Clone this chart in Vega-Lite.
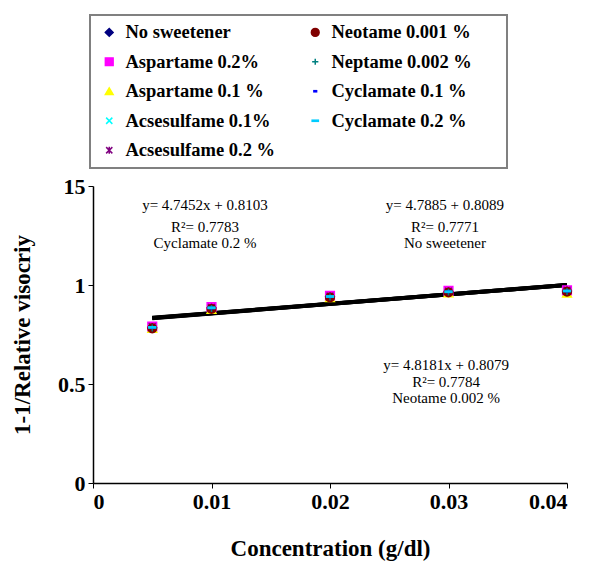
{
  "$schema": "https://vega.github.io/schema/vega-lite/v6.json",
  "width": 474,
  "height": 297,
  "autosize": "none",
  "padding": {"left": 93, "top": 186, "right": 27, "bottom": 79},
  "background": "white",
  "datasets": {
    "points": [
      {"series": "No sweetener", "x": 0.005, "y": 0.786}, {"series": "No sweetener", "x": 0.01, "y": 0.885}, {"series": "No sweetener", "x": 0.02, "y": 0.942}, {"series": "No sweetener", "x": 0.03, "y": 0.967}, {"series": "No sweetener", "x": 0.04, "y": 0.970},
      {"series": "Aspartame 0.2%", "x": 0.005, "y": 0.790}, {"series": "Aspartame 0.2%", "x": 0.01, "y": 0.888}, {"series": "Aspartame 0.2%", "x": 0.02, "y": 0.945}, {"series": "Aspartame 0.2%", "x": 0.03, "y": 0.970}, {"series": "Aspartame 0.2%", "x": 0.04, "y": 0.973},
      {"series": "Aspartame 0.1 %", "x": 0.005, "y": 0.780}, {"series": "Aspartame 0.1 %", "x": 0.01, "y": 0.876}, {"series": "Aspartame 0.1 %", "x": 0.02, "y": 0.935}, {"series": "Aspartame 0.1 %", "x": 0.03, "y": 0.960}, {"series": "Aspartame 0.1 %", "x": 0.04, "y": 0.958},
      {"series": "Acsesulfame 0.1%", "x": 0.005, "y": 0.784}, {"series": "Acsesulfame 0.1%", "x": 0.01, "y": 0.883}, {"series": "Acsesulfame 0.1%", "x": 0.02, "y": 0.940}, {"series": "Acsesulfame 0.1%", "x": 0.03, "y": 0.965}, {"series": "Acsesulfame 0.1%", "x": 0.04, "y": 0.968},
      {"series": "Acsesulfame 0.2 %", "x": 0.005, "y": 0.789}, {"series": "Acsesulfame 0.2 %", "x": 0.01, "y": 0.887}, {"series": "Acsesulfame 0.2 %", "x": 0.02, "y": 0.944}, {"series": "Acsesulfame 0.2 %", "x": 0.03, "y": 0.969}, {"series": "Acsesulfame 0.2 %", "x": 0.04, "y": 0.974},
      {"series": "Neotame 0.001 %", "x": 0.005, "y": 0.781}, {"series": "Neotame 0.001 %", "x": 0.01, "y": 0.879}, {"series": "Neotame 0.001 %", "x": 0.02, "y": 0.937}, {"series": "Neotame 0.001 %", "x": 0.03, "y": 0.962}, {"series": "Neotame 0.001 %", "x": 0.04, "y": 0.966},
      {"series": "Neptame 0.002 %", "x": 0.005, "y": 0.783}, {"series": "Neptame 0.002 %", "x": 0.01, "y": 0.881}, {"series": "Neptame 0.002 %", "x": 0.02, "y": 0.939}, {"series": "Neptame 0.002 %", "x": 0.03, "y": 0.964}, {"series": "Neptame 0.002 %", "x": 0.04, "y": 0.967},
      {"series": "Cyclamate 0.1 %", "x": 0.005, "y": 0.785}, {"series": "Cyclamate 0.1 %", "x": 0.01, "y": 0.884}, {"series": "Cyclamate 0.1 %", "x": 0.02, "y": 0.941}, {"series": "Cyclamate 0.1 %", "x": 0.03, "y": 0.966}, {"series": "Cyclamate 0.1 %", "x": 0.04, "y": 0.969},
      {"series": "Cyclamate 0.2 %", "x": 0.005, "y": 0.786}, {"series": "Cyclamate 0.2 %", "x": 0.01, "y": 0.885}, {"series": "Cyclamate 0.2 %", "x": 0.02, "y": 0.942}, {"series": "Cyclamate 0.2 %", "x": 0.03, "y": 0.966}, {"series": "Cyclamate 0.2 %", "x": 0.04, "y": 0.970}
    ],
    "trend": [
      {"eq": "No sweetener", "x": 0.005, "y": 0.8328}, {"eq": "No sweetener", "x": 0.04, "y": 1.0004},
      {"eq": "Cyclamate 0.2 %", "x": 0.005, "y": 0.8340}, {"eq": "Cyclamate 0.2 %", "x": 0.04, "y": 1.0001},
      {"eq": "Neotame 0.002 %", "x": 0.005, "y": 0.8320}, {"eq": "Neotame 0.002 %", "x": 0.04, "y": 1.0006}
    ],
    "notes": [
      {"x": 0.00945, "y": 1.404, "text": "y= 4.7452x + 0.8103"},
      {"x": 0.00945, "y": 1.293, "text": "R²= 0.7783"},
      {"x": 0.00945, "y": 1.212, "text": "Cyclamate 0.2 %"},
      {"x": 0.0297, "y": 1.404, "text": "y= 4.7885 + 0.8089"},
      {"x": 0.0297, "y": 1.293, "text": "R²= 0.7771"},
      {"x": 0.0297, "y": 1.212, "text": "No sweetener"},
      {"x": 0.0298, "y": 0.596, "text": "y= 4.8181x + 0.8079"},
      {"x": 0.0298, "y": 0.510, "text": "R²= 0.7784"},
      {"x": 0.0298, "y": 0.429, "text": "Neotame 0.002 %"}
    ]
  },
  "layer": [
    {
      "data": {"name": "trend"},
      "mark": {"type": "line", "color": "black", "strokeWidth": 4},
      "encoding": {
        "x": {"field": "x", "type": "quantitative", "scale": {"domain": [0, 0.04], "nice": false},
          "axis": {"title": "Concentration (g/dl)", "values": [0, 0.01, 0.02, 0.03, 0.04],
            "labelExpr": "datum.value == 0 ? '0' : format(datum.value, '.2f')", "titlePadding": 25}},
        "y": {"field": "y", "type": "quantitative", "scale": {"domain": [0, 1.5], "nice": false},
          "axis": {"title": "1-1/Relative visocriy", "values": [0, 0.5, 1, 1.5],
            "labelExpr": "datum.value == 1.5 ? '15' : datum.value == 1 ? '1' : datum.value == 0.5 ? '0.5' : '0'", "titlePadding": 23}},
        "detail": {"field": "eq", "type": "nominal"}
      }
    },
    {
      "data": {"name": "points"},
      "mark": {"type": "point", "opacity": 1, "strokeWidth": 1.5, "size": 75},
      "encoding": {
        "x": {"field": "x", "type": "quantitative"},
        "y": {"field": "y", "type": "quantitative"},
        "fill": {"field": "series", "type": "nominal",
          "scale": {"domain": ["No sweetener", "Aspartame 0.2%", "Aspartame 0.1 %", "Acsesulfame 0.1%", "Acsesulfame 0.2 %", "Neotame 0.001 %", "Neptame 0.002 %", "Cyclamate 0.1 %", "Cyclamate 0.2 %"],
            "range": ["#000080", "#ff00ff", "#ffff00", "#00ffff", "#800080", "#800000", "#008080", "#0000ff", "#00ccff"]},
          "legend": {"title": ".", "orient": "none", "legendX": -3, "legendY": -171, "columns": 2}},
        "stroke": {"field": "series", "type": "nominal",
          "scale": {"domain": ["No sweetener", "Aspartame 0.2%", "Aspartame 0.1 %", "Acsesulfame 0.1%", "Acsesulfame 0.2 %", "Neotame 0.001 %", "Neptame 0.002 %", "Cyclamate 0.1 %", "Cyclamate 0.2 %"],
            "range": ["#000080", "#ff00ff", "#ffff00", "#00ffff", "#800080", "#800000", "#008080", "#0000ff", "#00ccff"]},
          "legend": {"title": ".", "orient": "none", "legendX": -3, "legendY": -171, "columns": 2}},
        "shape": {"field": "series", "type": "nominal",
          "scale": {"domain": ["No sweetener", "Aspartame 0.2%", "Aspartame 0.1 %", "Acsesulfame 0.1%", "Acsesulfame 0.2 %", "Neotame 0.001 %", "Neptame 0.002 %", "Cyclamate 0.1 %", "Cyclamate 0.2 %"],
            "range": ["diamond", "square", "triangle-up", "M-0.8,-0.8L0.8,0.8M-0.8,0.8L0.8,-0.8", "M-0.8,-0.8L0.8,0.8M-0.8,0.8L0.8,-0.8M0,-0.9L0,0.9", "circle", "M-0.8,0L0.8,0M0,-0.8L0,0.8", "M-0.35,-0.15H0.35V0.15H-0.35Z", "M-0.8,-0.15H0.8V0.15H-0.8Z"]},
          "legend": {"title": ".", "orient": "none", "legendX": -3, "legendY": -171, "columns": 2}}
      }
    },
    {
      "data": {"name": "notes"},
      "mark": {"type": "text", "font": "Times New Roman, Liberation Serif, serif", "fontSize": 15, "color": "black", "align": "center", "baseline": "middle"},
      "encoding": {
        "x": {"field": "x", "type": "quantitative"},
        "y": {"field": "y", "type": "quantitative"},
        "text": {"field": "text", "type": "nominal"}
      }
    }
  ],
  "config": {
    "view": {"stroke": null},
    "axis": {
      "grid": false, "domainColor": "black", "domainWidth": 1.5, "tickColor": "black", "tickSize": 5, "tickWidth": 1,
      "labelFont": "Times New Roman, Liberation Serif, serif", "labelFontWeight": "bold", "labelFontSize": 22, "labelColor": "black", "labelPadding": 3,
      "titleFont": "Times New Roman, Liberation Serif, serif", "titleFontWeight": "bold", "titleFontSize": 23, "titleColor": "black"
    },
    "legend": {
      "labelFont": "Times New Roman, Liberation Serif, serif", "labelFontWeight": "bold", "labelFontSize": 18.5, "labelColor": "black", "labelLimit": 400,
      "titleOrient": "right", "titleColor": "white", "titleFontSize": 8, "titlePadding": 24,
      "strokeColor": "#808080", "strokeWidth": 2, "padding": 8, "rowPadding": 10.5, "columnPadding": 28,
      "symbolSize": 60, "symbolStrokeWidth": 1.5, "symbolOffset": 2, "labelOffset": 7, "fillColor": "white"
    }
  }
}
